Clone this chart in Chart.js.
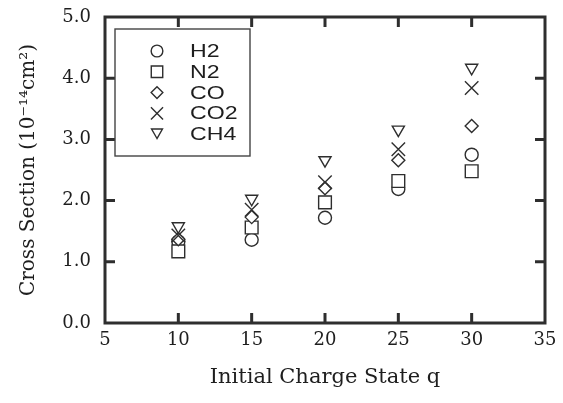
<!DOCTYPE html>
<html>
<head>
<meta charset="utf-8">
<script src="https://cdn.jsdelivr.net/npm/chart.js@4.4.1/dist/chart.umd.min.js"></script>
<style>
  html, body { margin: 0; padding: 0; background: #fff; }
  #wrap { width: 563px; height: 403px; }
</style>
</head>
<body>
<div id="wrap"><canvas id="xsChart" width="563" height="403"></canvas></div>
<script>
// charge states
const chargeStates = [10, 15, 20, 25, 30];

// cross sections (10^-14 cm^2) per gas
const h2Values  = [1.33, 1.36, 1.72, 2.19, 2.75];
const n2Values  = [1.17, 1.56, 1.97, 2.32, 2.48];
const coValues  = [1.37, 1.73, 2.20, 2.66, 3.22];
const co2Values = [1.43, 1.85, 2.30, 2.84, 3.84];
const ch4Values = [1.58, 2.03, 2.66, 3.16, 4.17];

const gasNames = ['H2', 'N2', 'CO', 'CO2', 'CH4'];

// tick labels
const xTickLabels = ['5', '10', '15', '20', '25', '30', '35'];
const yTickLabels = ['0.0', '1.0', '2.0', '3.0', '4.0', '5.0'];

const ink = '#2e2e2e';

function toPoints(vals) {
  return chargeStates.map((q, i) => ({ x: q, y: vals[i] }));
}

const markerStyles = [
  { pointStyle: 'circle',   pointRadius: 6.5, rotation: 0 },
  { pointStyle: 'rect',     pointRadius: 9,   rotation: 0 },
  { pointStyle: 'rectRot',  pointRadius: 6.5, rotation: 0 },
  { pointStyle: 'crossRot', pointRadius: 9.5, rotation: 0 },
  { pointStyle: 'triangle', pointRadius: 7,   rotation: 180 }
];

const seriesValues = [h2Values, n2Values, coValues, co2Values, ch4Values];

const datasets = seriesValues.map((vals, i) => ({
  label: gasNames[i],
  data: toPoints(vals),
  pointStyle: markerStyles[i].pointStyle,
  pointRadius: markerStyles[i].pointRadius,
  pointRotation: markerStyles[i].rotation,
  pointBorderWidth: 1.4,
  borderColor: ink,
  backgroundColor: '#ffffff',
  pointBackgroundColor: '#ffffff',
  pointBorderColor: ink,
  showLine: false,
  order: 5 - i
}));

// frame, inward ticks on all four sides, boxed legend
const framePlugin = {
  id: 'frame',
  afterDatasetsDraw(chart) {
    const ctx = chart.ctx;
    const a = chart.chartArea;
    const xs = chart.scales.x, ys = chart.scales.y;
    const tl = 10;
    ctx.save();
    ctx.strokeStyle = ink;
    ctx.lineWidth = 3;
    ctx.beginPath();
    xs.ticks.forEach(t => {
      if (t.value <= xs.min || t.value >= xs.max) return;
      const px = xs.getPixelForValue(t.value);
      ctx.moveTo(px, a.bottom); ctx.lineTo(px, a.bottom - tl);
      ctx.moveTo(px, a.top); ctx.lineTo(px, a.top + tl);
    });
    ys.ticks.forEach(t => {
      if (t.value <= ys.min || t.value >= ys.max) return;
      const py = ys.getPixelForValue(t.value);
      ctx.moveTo(a.left, py); ctx.lineTo(a.left + tl, py);
      ctx.moveTo(a.right, py); ctx.lineTo(a.right - tl, py);
    });
    ctx.stroke();
    ctx.strokeRect(a.left, a.top, a.right - a.left, a.bottom - a.top);

    // legend box
    const bx = a.left + 10, by = a.top + 12, bw = 135, bh = 127;
    ctx.fillStyle = '#ffffff';
    ctx.fillRect(bx, by, bw, bh);
    ctx.lineWidth = 1.4;
    ctx.strokeStyle = '#444';
    ctx.strokeRect(bx, by, bw, bh);
    ctx.textBaseline = 'middle';
    ctx.textAlign = 'left';
    gasNames.forEach((name, i) => {
      const cy = by + 22 + i * 20.8;
      const m = markerStyles[i];
      ctx.strokeStyle = ink;
      ctx.lineWidth = 1.4;
      ctx.fillStyle = '#ffffff';
      Chart.helpers.drawPoint(ctx, {
        pointStyle: m.pointStyle,
        radius: m.pointRadius * 0.9,
        rotation: m.rotation,
        borderWidth: 1.4
      }, bx + 42, m.pointStyle === 'triangle' ? cy - 2 : cy);
      // wide sans label
      ctx.save();
      ctx.translate(bx + 75, cy + 1);
      ctx.scale(1.25, 1);
      ctx.font = '18.5px "Liberation Sans", Arial, sans-serif';
      ctx.fillStyle = '#1e1e1e';
      ctx.fillText(name, 0, 0);
      ctx.restore();
    });
    ctx.restore();
  }
};

const ctx = document.getElementById('xsChart').getContext('2d');
new Chart(ctx, {
  type: 'scatter',
  data: { datasets: datasets },
  options: {
    responsive: false,
    animation: false,
    events: [],
    layout: { padding: { left: 0, right: 18, top: 17, bottom: 0 } },
    plugins: {
      legend: { display: false },
      tooltip: { enabled: false }
    },
    scales: {
      x: {
        type: 'linear',
        min: 5, max: 35,
        border: { display: false },
        grid: { display: false, drawTicks: false },
        ticks: {
          stepSize: 5,
          padding: 7,
          color: '#1e1e1e',
          font: { family: '"DejaVu Serif", serif', size: 18 },
          callback: (v) => xTickLabels[(v - 5) / 5]
        },
        title: {
          display: true,
          text: 'Initial Charge State q',
          color: '#1e1e1e',
          font: { family: '"DejaVu Serif", serif', size: 21 },
          padding: { top: 0, bottom: 13 }
        },
        afterFit(scale) {
          scale.height = 80;
          scale.paddingLeft = 0;
          scale.paddingRight = 0;
        }
      },
      y: {
        type: 'linear',
        min: 0, max: 5,
        border: { display: false },
        grid: { display: false, drawTicks: false },
        ticks: {
          stepSize: 1,
          padding: 14,
          color: '#1e1e1e',
          font: { family: '"DejaVu Serif", serif', size: 18 },
          callback: (v) => yTickLabels[Math.round(v)]
        },
        title: {
          display: true,
          text: 'Cross Section (10\u207B\u00B9\u2074cm\u00B2)',
          color: '#1e1e1e',
          font: { family: '"DejaVu Serif", serif', size: 20 },
          padding: { top: 17, bottom: 0 }
        },
        afterFit(scale) {
          scale.width = 105;
          scale.paddingTop = 0;
          scale.paddingBottom = 0;
        }
      }
    }
  },
  plugins: [framePlugin]
});
</script>
</body>
</html>
